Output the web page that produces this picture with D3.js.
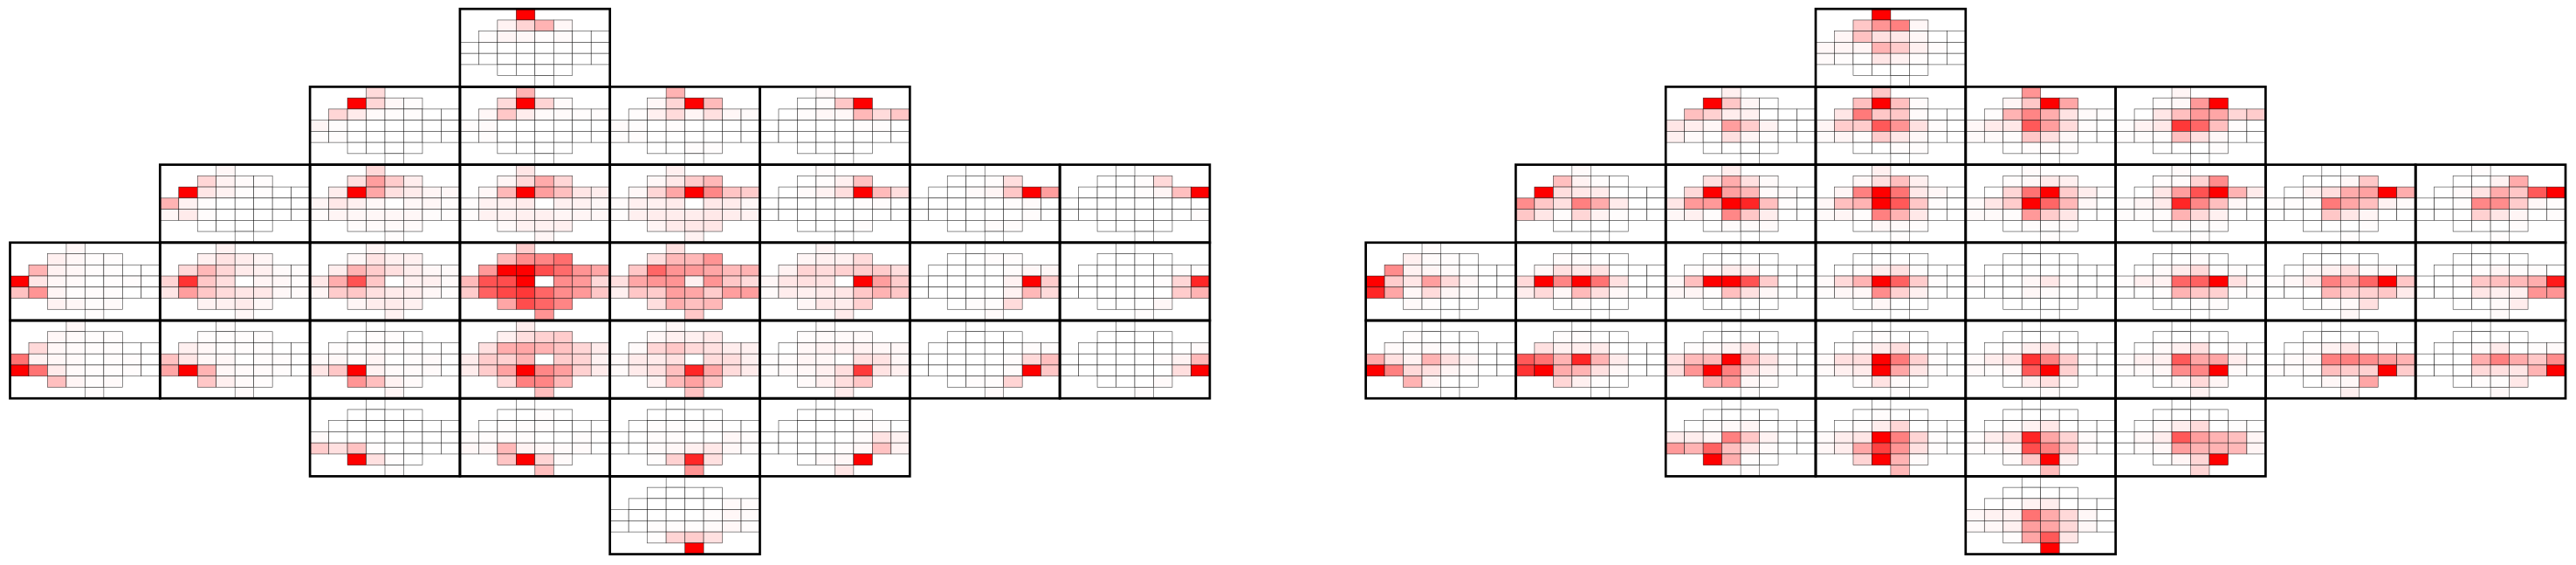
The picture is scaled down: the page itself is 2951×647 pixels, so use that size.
<!DOCTYPE html>
<html>
<head>
<meta charset="utf-8">
<script src="https://cdn.jsdelivr.net/npm/d3@7"></script>
<style>
html, body { margin: 0; padding: 0; background: #fff; }
svg { display: block; }
</style>
</head>
<body>
<script>
// sensor layout: first and last occupied column in each of the 7 rows
const rowFirst = [3, 2, 1, 0, 0, 2, 4];
const rowLast = [3, 5, 7, 7, 7, 5, 4];

// one line per panel, panels and cells both in row order of the layout, % of max
const leftValues = [
  [100, 5,17,30,3, 1,4,3,1,2,0,0, 0,0,0,0,0,0,0,0, 0,0,0,0,0,0,0,0, 0,0,0,0, 0],
  [14, 100,16,3,1, 16,8,2,1,1,0,0, 4,1,0,0,0,0,0,0, 1,1,0,0,0,0,0,0, 0,0,0,0, 0],
  [30, 15,100,17,2, 3,22,7,2,2,1,1, 1,2,0,0,0,0,0,0, 0,1,0,0,0,0,0,0, 0,0,0,0, 0],
  [30, 3,16,100,27, 1,6,14,4,12,3,2, 2,1,0,1,0,0,0,0, 1,1,0,0,0,0,0,0, 0,0,1,1, 0],
  [2, 0,1,22,100, 0,1,3,3,28,14,22, 0,0,0,0,0,1,1,0, 0,0,0,0,0,0,0,0, 0,0,0,0, 0],
  [3, 16,5,2,1, 100,10,5,1,1,0,0, 30,5,1,0,0,0,0,0, 3,8,1,0,0,0,0,0, 0,0,0,0, 0],
  [15, 12,38,20,7, 7,100,35,12,8,4,3, 4,9,6,3,0,3,3,1, 1,4,3,3,3,3,1,1, 1,2,2,2, 1],
  [10, 4,15,33,16, 3,28,100,38,25,10,7, 1,5,6,8,0,6,5,3, 1,5,5,6,6,4,4,3, 2,5,5,6, 4],
  [6, 3,9,20,28, 3,16,35,100,47,23,20, 2,6,6,8,0,9,8,3, 1,6,7,7,7,9,7,5, 4,8,9,10, 5],
  [1, 0,1,6,24, 0,2,5,13,100,27,13, 0,0,0,0,0,1,1,0, 0,0,0,0,0,0,0,0, 0,0,0,1, 0],
  [0, 0,0,1,13, 0,0,2,4,22,100,38, 0,0,0,0,0,1,2,0, 0,0,0,0,0,0,1,0, 0,0,1,1, 0],
  [0, 0,0,1,15, 0,0,0,1,4,25,100, 0,0,0,0,0,0,0,0, 0,0,0,0,0,0,0,1, 0,0,0,0, 0],
  [3, 6,3,1,1, 30,5,3,1,1,0,0, 100,10,3,2,0,1,1,0, 24,42,4,1,1,1,0,0, 5,3,1,2, 1],
  [5, 6,11,7,4, 15,28,16,8,6,2,1, 17,80,22,13,0,4,3,1, 10,38,22,14,10,9,3,2, 5,6,8,3, 3],
  [4, 3,11,6,6, 7,30,20,12,7,3,2, 9,32,68,22,0,6,6,2, 4,20,22,12,8,7,3,1, 4,7,8,6, 5],
  [20, 28,45,48,57, 40,100,100,70,58,42,35, 27,68,70,100,0,45,40,15, 20,62,72,78,60,45,40,22, 35,70,60,48, 42],
  [12, 13,28,28,42, 22,60,42,40,35,27,30, 12,35,42,42,6,42,22,14, 6,22,20,38,35,20,38,38, 13,32,25,28, 22],
  [4, 4,6,6,14, 5,17,14,18,20,20,13, 3,10,12,11,0,100,38,20, 2,7,6,8,10,22,30,22, 3,9,7,18, 8],
  [0, 0,0,1,1, 0,0,0,0,1,3,3, 0,0,0,0,0,5,100,20, 0,0,0,0,0,5,28,14, 0,1,1,14, 2],
  [0, 0,0,0,0, 0,0,0,0,0,1,1, 0,0,0,0,0,1,16,85, 0,0,0,0,0,0,20,30, 0,0,0,3, 1],
  [3, 3,2,1,1, 15,3,2,1,1,0,0, 55,5,3,2,0,1,1,0, 100,55,8,2,1,1,1,0, 25,4,1,2, 1],
  [1, 1,1,1,1, 6,3,1,1,1,0,0, 24,10,3,3,0,1,1,0, 35,100,30,3,2,2,1,0, 22,6,2,1, 2],
  [0, 0,1,1,0, 1,1,2,1,1,0,0, 2,3,1,4,0,1,2,0, 10,22,100,5,2,2,2,0, 42,25,5,2, 4],
  [7, 6,13,18,20, 12,32,35,30,24,16,8, 7,20,18,30,0,20,17,5, 7,20,37,100,47,38,18,8, 15,50,48,28, 26],
  [3, 3,6,6,9, 2,16,22,15,12,7,6, 2,8,8,12,0,14,13,6, 2,8,12,25,85,35,14,8, 5,27,37,23, 24],
  [1, 1,2,2,2, 0,3,5,5,5,3,3, 1,1,4,3,0,12,11,3, 1,2,3,6,13,77,11,6, 2,6,13,22, 8],
  [0, 0,0,0,0, 0,0,0,0,0,1,1, 0,0,0,0,0,1,15,25, 0,0,0,0,0,1,100,22, 0,1,1,17, 2],
  [0, 0,0,0,0, 0,0,0,0,0,0,2, 0,0,0,0,0,1,5,28, 0,0,0,0,0,0,13,100, 0,0,0,2, 1],
  [0, 0,0,0,0, 0,0,0,0,0,0,0, 2,0,0,0,0,0,0,0, 20,12,24,1,0,0,0,0, 100,12,1,0, 1],
  [0, 0,0,1,0, 0,1,1,1,0,0,0, 1,1,1,1,0,0,1,0, 3,3,28,5,3,2,2,0, 23,100,17,2, 25],
  [0, 0,0,0,0, 0,1,1,1,1,0,0, 0,0,1,1,0,0,3,1, 0,0,2,3,6,9,3,1, 1,18,85,12, 42],
  [0, 0,0,0,1, 0,0,0,0,1,1,0, 0,0,0,0,0,1,11,5, 0,0,0,0,1,3,24,5, 0,2,3,100, 10],
  [0, 0,0,0,0, 0,0,0,0,0,2,1, 0,0,0,0,0,1,3,2, 0,0,1,1,1,2,3,1, 1,17,20,12, 100]
];

const rightValues = [
  [100, 22,42,50,3, 4,24,12,9,3,0,0, 3,4,4,30,20,6,1,0, 2,1,0,10,5,1,0,0, 0,0,0,0, 0],
  [6, 100,22,4,0, 25,18,7,6,0,0,0, 10,7,3,38,20,5,0,0, 6,2,0,12,4,1,0,0, 0,0,0,0, 0],
  [22, 25,100,25,2, 10,52,22,22,2,0,0, 4,20,20,65,42,12,1,0, 2,4,1,20,9,3,0,0, 0,0,1,1, 0],
  [42, 4,22,100,35, 1,30,48,32,11,2,1, 3,8,9,65,38,14,1,0, 2,2,1,22,12,3,0,0, 0,1,1,1, 0],
  [4, 1,3,40,100, 0,10,25,40,35,16,20, 1,5,9,78,60,25,1,0, 1,1,1,25,12,3,0,0, 0,0,0,1, 0],
  [2, 25,5,1,0, 100,13,9,8,0,0,0, 45,22,12,50,33,8,0,0, 22,10,1,16,5,1,0,0, 0,0,0,0, 0],
  [7, 12,32,12,2, 15,100,37,28,2,1,0, 10,40,40,100,85,25,1,0, 3,6,1,47,22,7,0,0, 0,1,1,2, 0],
  [6, 3,12,25,6, 4,50,100,55,9,3,0, 3,25,30,100,65,22,1,0, 2,4,1,50,30,9,0,0, 0,3,2,1, 1],
  [2, 1,3,8,6, 0,16,55,100,20,7,1, 2,10,20,100,60,28,3,0, 2,2,1,40,20,10,0,0, 0,1,1,1, 1],
  [2, 1,2,17,45, 0,10,38,68,100,30,8, 1,4,8,85,47,25,3,0, 1,1,1,30,15,6,0,0, 0,1,1,1, 1],
  [0, 0,0,3,22, 0,5,13,33,37,100,32, 1,1,1,52,35,25,5,2, 0,0,0,22,10,4,0,0, 0,0,0,1, 1],
  [1, 0,0,5,33, 0,2,11,33,22,65,100, 0,0,1,47,45,20,3,1, 0,0,0,18,10,4,0,1, 0,0,0,1, 1],
  [1, 6,2,1,0, 45,5,4,2,0,0,0, 100,20,10,38,15,3,0,0, 85,35,3,14,4,1,0,0, 2,1,0,0, 0],
  [0, 1,1,0,0, 3,12,9,11,0,0,0, 15,100,48,100,55,12,0,0, 7,15,3,27,13,3,0,0, 0,1,0,0, 0],
  [0, 0,0,0,0, 1,2,8,5,0,0,0, 3,25,100,100,68,20,0,0, 3,4,1,25,12,3,0,0, 0,0,0,0, 0],
  [0, 0,0,0,0, 0,1,7,12,1,0,0, 2,15,30,100,62,20,1,0, 1,3,3,45,18,6,0,0, 0,3,0,0, 0],
  [0, 0,0,0,0, 0,0,0,0,0,0,0, 1,0,0,3,9,1,0,0, 0,0,0,3,2,0,0,0, 0,0,0,0, 0],
  [0, 0,0,1,0, 0,2,8,15,1,1,0, 1,6,5,60,62,100,12,2, 0,0,1,30,22,18,1,1, 0,0,1,1, 0],
  [0, 0,0,0,0, 0,2,6,12,2,3,0, 1,3,9,50,35,60,100,22, 0,0,0,28,18,18,22,8, 0,1,2,12, 3],
  [0, 0,0,0,0, 0,0,1,4,1,1,0, 0,0,1,22,25,27,32,90, 0,0,0,10,6,6,42,42, 0,0,2,7, 2],
  [0, 1,0,0,0, 2,1,2,1,0,0,0, 33,12,5,30,12,4,0,0, 100,50,15,12,4,1,0,0, 30,4,0,0, 0],
  [0, 1,1,0,0, 12,6,7,8,0,0,0, 65,55,30,85,30,8,0,0, 80,100,33,30,12,3,0,0, 16,6,1,0, 0],
  [0, 0,0,0,0, 1,2,5,11,0,0,0, 12,27,28,100,28,11,1,0, 13,42,100,50,15,5,1,0, 32,40,3,1, 1],
  [0, 0,1,0,0, 0,2,8,13,0,0,0, 2,12,13,100,52,18,1,0, 2,6,8,100,35,10,1,0, 1,11,2,0, 1],
  [0, 0,0,0,0, 0,1,7,11,0,0,0, 2,7,11,80,50,20,1,0, 2,1,3,65,100,18,0,0, 0,7,12,1, 2],
  [0, 0,0,0,0, 0,2,6,12,0,1,0, 1,6,6,65,35,35,7,1, 1,2,3,45,48,100,2,0, 0,3,15,4, 5],
  [0, 0,0,0,0, 0,1,5,10,0,1,0, 0,2,3,50,50,45,38,30, 1,1,1,25,20,18,100,20, 0,3,3,35, 6],
  [0, 0,0,0,0, 0,0,2,8,0,1,2, 0,0,0,32,50,33,22,45, 0,0,0,15,12,10,30,100, 0,1,1,9, 3],
  [0, 0,0,0,0, 0,1,2,4,0,0,0, 8,7,4,50,22,5,0,0, 40,30,62,25,9,2,0,0, 100,32,1,0, 1],
  [0, 0,1,0,0, 0,1,7,16,0,0,0, 2,7,10,100,50,17,1,0, 3,7,35,75,42,12,1,0, 17,100,30,2, 28],
  [0, 0,0,0,0, 0,1,5,9,0,0,0, 1,7,12,85,35,17,2,0, 1,2,5,70,50,22,2,0, 1,22,100,6, 26],
  [0, 0,0,0,0, 0,2,7,14,0,1,0, 0,3,7,65,38,30,25,4, 0,1,3,38,30,30,28,4, 0,4,16,100, 16],
  [0, 0,0,0,0, 0,1,5,7,0,0,0, 3,5,6,55,33,15,3,0, 2,3,6,38,35,15,3,0, 1,35,65,10, 100]
];

const width = 2951, height = 647;
const panelW = 171.8, panelH = 89.2;
const blockLeft = [11.5, 1564.6];
const blockTop = 10.2;

const slots = [];
rowFirst.forEach((first, r) => {
  d3.range(first, rowLast[r] + 1).forEach(c => slots.push({ r, c }));
});

const color = d3.scaleLinear().domain([0, 100]).range(["#ffffff", "#ff0000"]);

const innerX = d3.scaleBand().domain(d3.range(8)).range([0, panelW]);
const innerY = d3.scaleBand().domain(d3.range(7)).range([0, panelH]);

const svg = d3.select("body").append("svg")
  .attr("width", width)
  .attr("height", height);

function drawBlock(values, left) {
  const outerX = d3.scaleBand().domain(d3.range(8)).range([left, left + 8 * panelW]);
  const outerY = d3.scaleBand().domain(d3.range(7)).range([blockTop, blockTop + 7 * panelH]);

  const panels = svg.append("g").selectAll("g")
    .data(slots)
    .join("g")
    .attr("transform", d => `translate(${outerX(d.c)},${outerY(d.r)})`);

  panels.selectAll("rect.cell")
    .data((d, i) => slots.map((s, j) => ({ r: s.r, c: s.c, v: values[i][j] })))
    .join("rect")
    .attr("class", "cell")
    .attr("x", d => innerX(d.c))
    .attr("y", d => innerY(d.r))
    .attr("width", innerX.bandwidth())
    .attr("height", innerY.bandwidth())
    .attr("fill", d => color(d.v))
    .attr("stroke", "#000")
    .attr("stroke-opacity", 0.75)
    .attr("stroke-width", 0.6);

  // frames go on top of every panel so neighbours share one line
  svg.append("g").selectAll("rect")
    .data(slots)
    .join("rect")
    .attr("x", d => outerX(d.c))
    .attr("y", d => outerY(d.r))
    .attr("width", panelW)
    .attr("height", panelH)
    .attr("fill", "none")
    .attr("stroke", "#000")
    .attr("stroke-width", 2.7);
}

drawBlock(leftValues, blockLeft[0]);
drawBlock(rightValues, blockLeft[1]);
</script>
</body>
</html>
